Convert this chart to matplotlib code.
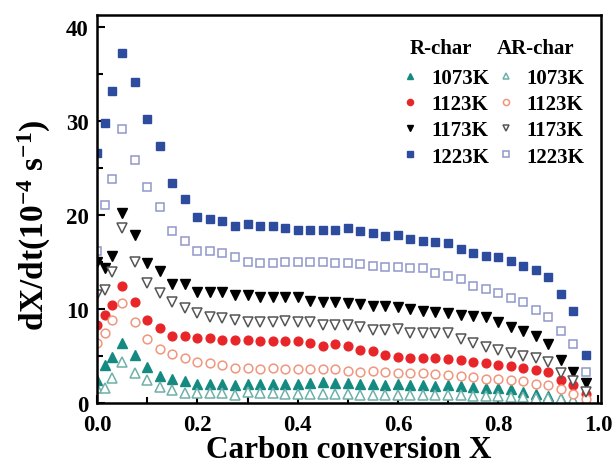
import matplotlib
matplotlib.use('Agg')
import matplotlib.pyplot as plt
from matplotlib.ticker import MultipleLocator, FormatStrFormatter

plt.rcParams['font.family'] = 'Liberation Serif'
plt.rcParams['font.weight'] = 'bold'
plt.rcParams['mathtext.fontset'] = 'custom'
plt.rcParams['mathtext.rm'] = 'Liberation Serif:bold'
plt.rcParams['mathtext.bf'] = 'Liberation Serif:bold'
plt.rcParams['mathtext.it'] = 'Liberation Serif:bold'

# carbon conversion (same grid for all series)
conv = [0.0, 0.015, 0.03, 0.05, 0.075, 0.1, 0.125, 0.15, 0.175, 0.2,
        0.225, 0.25, 0.275, 0.3, 0.325, 0.35, 0.375, 0.4, 0.425, 0.45,
        0.475, 0.5, 0.525, 0.55, 0.575, 0.6, 0.625, 0.65, 0.675, 0.7,
        0.725, 0.75, 0.775, 0.8, 0.825, 0.85, 0.875, 0.9, 0.925, 0.95, 0.975]

temps = ['1073K', '1123K', '1173K', '1223K']

# R-char rates (1e-4 1/s)
r1073 = [2.4, 4.0, 4.9, 6.4, 5.1, 3.8, 2.9, 2.5, 2.3, 2.0, 2.0, 2.0, 1.9, 2.0, 2.0, 2.0, 2.0, 2.0,
         2.1, 2.2, 2.1, 2.1, 2.0, 2.0, 1.9, 2.0, 1.9, 1.9, 1.8, 1.9, 1.8, 1.7, 1.6, 1.6, 1.5, 1.2,
         1.0, 0.7, 0.4, 0.2, 0.1]
r1123 = [8.3, 9.3, 10.4, 12.4, 10.7, 8.8, 8.0, 7.1, 7.1, 6.9, 6.9, 6.7, 6.7, 6.7, 6.6, 6.6, 6.6, 6.6,
         6.4, 6.1, 6.3, 6.1, 5.6, 5.5, 5.1, 4.9, 4.8, 4.8, 4.8, 4.7, 4.6, 4.4, 4.2, 4.0, 3.9, 3.7,
         3.5, 3.3, 2.4, 1.9, 1.0]
r1173 = [15.0, 14.3, 15.6, 20.2, 17.8, 14.9, 14.0, 12.6, 12.6, 11.8, 11.8, 11.8, 11.5, 11.5, 11.3,
         11.3, 11.3, 11.3, 10.8, 10.7, 10.7, 10.6, 10.5, 10.3, 10.3, 10.2, 10.0, 9.8, 9.7, 9.6, 9.4,
         9.2, 9.1, 8.6, 8.1, 7.6, 7.1, 6.3, 4.6, 3.3, 2.1]
r1223 = [26.6, 29.8, 33.1, 37.2, 34.1, 30.2, 27.3, 23.4, 21.7, 19.8, 19.6, 19.3, 18.8, 19.0, 18.8,
         18.8, 18.6, 18.4, 18.4, 18.4, 18.4, 18.6, 18.3, 18.1, 17.7, 17.8, 17.4, 17.2, 17.1, 17.0,
         16.4, 15.9, 15.6, 15.5, 15.1, 14.6, 14.1, 13.4, 11.6, 9.8, 5.1]

# AR-char rates
ar1073 = [1.6, 1.6, 2.7, 4.4, 3.2, 2.4, 1.7, 1.4, 1.1, 1.1, 1.1, 1.1, 0.9, 1.2, 1.1, 1.1, 1.0, 1.0,
          1.0, 1.0, 1.0, 1.0, 0.9, 0.9, 0.9, 0.9, 0.9, 0.8, 0.8, 0.8, 0.8, 0.7, 0.7, 0.7, 0.6, 0.6,
          0.5, 0.5, 0.4, 0.3, 0.2]
ar1123 = [6.4, 7.4, 8.8, 10.6, 8.6, 6.8, 5.7, 5.2, 4.8, 4.4, 4.2, 4.0, 3.7, 3.7, 3.6, 3.7, 3.6, 3.6,
          3.6, 3.6, 3.6, 3.4, 3.3, 3.4, 3.3, 3.2, 3.2, 3.2, 3.1, 3.0, 2.9, 2.8, 2.6, 2.5, 2.4, 2.3,
          2.0, 1.9, 1.5, 1.0, 0.4]
ar1173 = [11.5, 12.0, 13.9, 18.6, 15.0, 12.7, 11.7, 10.7, 10.1, 9.6, 9.1, 9.0, 8.8, 8.6, 8.6, 8.6,
          8.7, 8.6, 8.6, 8.3, 8.3, 8.3, 8.1, 7.8, 7.8, 7.9, 7.4, 7.4, 7.4, 7.4, 6.8, 6.4, 6.0, 5.6,
          5.3, 5.0, 4.8, 4.4, 3.2, 2.3, 1.2]
ar1223 = [16.2, 21.0, 23.8, 29.1, 25.8, 23.0, 20.8, 18.3, 17.2, 16.2, 16.1, 15.9, 15.5, 15.0, 14.9,
          14.9, 15.0, 15.0, 15.0, 15.0, 14.9, 14.9, 14.8, 14.6, 14.4, 14.4, 14.3, 14.3, 13.8, 13.5,
          13.2, 12.4, 12.1, 11.7, 11.2, 10.7, 9.9, 9.1, 7.7, 6.3, 3.3]

r_series = [r1073, r1123, r1173, r1223]
ar_series = [ar1073, ar1123, ar1173, ar1223]
markers = ['^', 'o', 'v', 's']
fill_cols = ['#148a80', '#e8262a', '#000000', '#2d4c9e']
open_cols = ['#6fb0a8', '#f0967e', '#555555', '#8f97c9']
msizes = [7, 6.3, 7, 5.8]

fig = plt.figure(figsize=(6.15, 4.77), dpi=100)
ax = fig.add_axes([0.158, 0.153, 0.819, 0.813])

r_h = []
ar_h = []
for i in range(4):
    h, = ax.plot(conv, r_series[i], ls='none', marker=markers[i], ms=msizes[i],
                 mfc=fill_cols[i], mec=fill_cols[i], label=temps[i])
    r_h.append(h)
for i in range(4):
    h, = ax.plot(conv, ar_series[i], ls='none', marker=markers[i], ms=msizes[i],
                 mfc='white', mec=open_cols[i], mew=1.1, label=temps[i])
    ar_h.append(h)

ax.set_xlim(0, 1.005)
ax.set_ylim(0, 41.2)
ax.xaxis.set_major_locator(MultipleLocator(0.2))
ax.xaxis.set_minor_locator(MultipleLocator(0.1))
ax.xaxis.set_major_formatter(FormatStrFormatter('%.1f'))
ax.yaxis.set_major_locator(MultipleLocator(10))
ax.yaxis.set_minor_locator(MultipleLocator(5))
ax.tick_params(which='both', direction='in', width=1.5, labelsize=16.5)
ax.tick_params(axis='x', pad=8)
ax.tick_params(axis='y', pad=6)
ax.tick_params(which='major', length=6)
ax.tick_params(which='minor', length=4)
for sp in ax.spines.values():
    sp.set_linewidth(1.8)

ax.set_xlabel('Carbon conversion X', fontsize=22.5, fontweight='bold', labelpad=0)
ax.set_ylabel(r'dX/dt(10$^{\mathrm{-4}}$ s$^{\mathrm{-1}}$)', fontsize=24,
              fontweight='bold')
ax.yaxis.set_label_coords(-0.087, 0.46)

leg = ax.legend(handles=r_h + ar_h, ncol=2, frameon=False, loc='upper left',
                bbox_to_anchor=(0.601, 0.864), fontsize=15, handlelength=1.0,
                handletextpad=0.5, columnspacing=0.3, labelspacing=0.3,
                markerscale=0.7, borderaxespad=0, borderpad=0)
ax.text(0.621, 0.915, 'R-char', transform=ax.transAxes, fontsize=15,
        fontweight='bold', va='center')
ax.text(0.794, 0.915, 'AR-char', transform=ax.transAxes, fontsize=15,
        fontweight='bold', va='center')

fig.savefig('out.png', dpi=100)
